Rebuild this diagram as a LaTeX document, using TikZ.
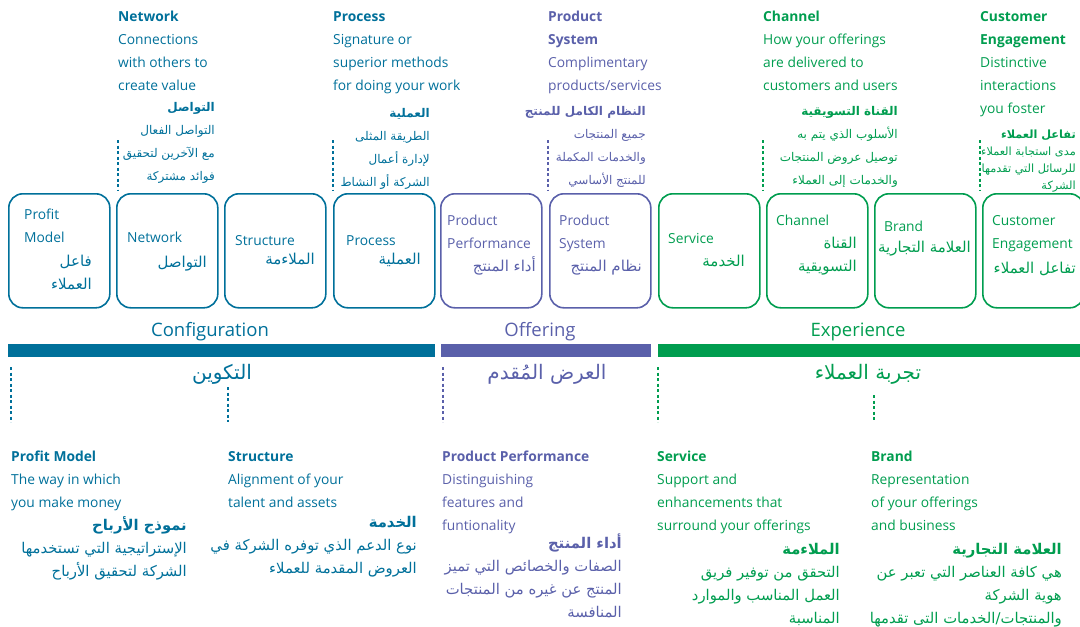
\documentclass[tikz,border=0pt]{standalone}
\usepackage{fontspec}
\setmainfont{Open Sans}
\newfontfamily\arfont[Script=Arabic]{DejaVu Sans}
\TeXXeTstate=1
\newcommand{\AR}[1]{{\arfont\beginR #1\endR}}
\definecolor{cfg}{HTML}{00709A}
\definecolor{off}{HTML}{5A60AA}
\definecolor{exp}{HTML}{009D4F}
\begin{document}
\begin{tikzpicture}[x=1pt,y=-1pt,
  box/.style={draw, line width=1.6pt, rounded corners=14pt, minimum width=101pt, minimum height=114pt, inner sep=0pt, anchor=north west},
  en/.style={anchor=base west, align=left, inner sep=0pt, font=\fontsize{13.8}{23}\selectfont},
  ar/.style={anchor=base east, align=right, inner sep=0pt},
  arS/.style={ar, font=\fontsize{12}{23}\selectfont},
  arB/.style={ar, font=\fontsize{15}{23}\selectfont},
  arL/.style={ar, font=\fontsize{14.8}{23}\selectfont},
  bar/.style={inner sep=0pt, anchor=north west, minimum height=13pt},
  band/.style={anchor=base, inner sep=0pt, font=\fontsize{18.5}{20}\selectfont},
  bandar/.style={anchor=base, inner sep=0pt, font=\fontsize{20}{22}\selectfont},
  dline/.style={line width=1.3pt, dash pattern=on 3pt off 2.5pt}]
\useasboundingbox (0,0) rectangle (1080,627);

% ---------- top descriptions (anchor = baseline of last line) ----------
\node[en, text=cfg] (tNet) at (118,90) {\textbf{Network}\\Connections\\with others to\\create value};
\node[arS, text=cfg] (tNetA) at (215,180) {\textbf{\AR{التواصل}}\\\AR{التواصل الفعال}\\\AR{مع الآخرين لتحقيق}\\\AR{فوائد مشتركة}};
\coordinate (dN1) at (118,140); \coordinate (dN2) at (118,190);
\draw[dline, cfg] (dN1) -- (dN2);

\node[en, text=cfg] (tPro) at (333,90) {\textbf{Process}\\Signature or\\superior methods\\for doing your work};
\node[arS, text=cfg] (tProA) at (430,186) {\textbf{\AR{العملية}}\\\AR{الطريقة المثلى}\\\AR{لإدارة أعمال}\\\AR{الشركة أو النشاط}};
\coordinate (dP1) at (333,140); \coordinate (dP2) at (333,190);
\draw[dline, cfg] (dP1) -- (dP2);

\node[en, text=off] (tSys) at (548,90) {\textbf{Product}\\\textbf{System}\\Complimentary\\products/services};
\node[arS, text=off] (tSysA) at (646,184) {\textbf{\AR{النظام الكامل للمنتج}}\\\AR{جميع المنتجات}\\\AR{والخدمات المكملة}\\\AR{للمنتج الأساسي}};
\coordinate (dS1) at (548,140); \coordinate (dS2) at (548,190);
\draw[dline, off] (dS1) -- (dS2);

\node[en, text=exp] (tCha) at (763,90) {\textbf{Channel}\\How your offerings\\are delivered to\\customers and users};
\node[arS, text=exp] (tChaA) at (898,184) {\textbf{\AR{القناة التسويقية}}\\\AR{الأسلوب الذي يتم به}\\\AR{توصيل عروض المنتجات}\\\AR{والخدمات إلى العملاء}};
\coordinate (dC1) at (763,140); \coordinate (dC2) at (763,190);
\draw[dline, exp] (dC1) -- (dC2);

\node[en, text=exp] (tEng) at (980,113) {\textbf{Customer}\\\textbf{Engagement}\\Distinctive\\interactions\\you foster};
\node[ar, text=exp, font=\fontsize{11.3}{17}\selectfont] (tEngA) at (1076,189) {\textbf{\AR{تفاعل العملاء}}\\\AR{مدى استجابة العملاء}\\\AR{للرسائل التي تقدمها}\\\AR{الشركة}};
\coordinate (dE1) at (980,140); \coordinate (dE2) at (980,190);
\draw[dline, exp] (dE1) -- (dE2);

% ---------- boxes ----------
\node[box, draw=cfg] (b1) at (8,193) {};
\node[box, draw=cfg] (b2) at (116,193) {};
\node[box, draw=cfg] (b3) at (224,193) {};
\node[box, draw=cfg] (b4) at (333,193) {};
\node[box, draw=off] (b5) at (440,193) {};
\node[box, draw=off] (b6) at (549,193) {};
\node[box, draw=exp] (b7) at (658,193) {};
\node[box, draw=exp] (b8) at (766,193) {};
\node[box, draw=exp] (b9) at (874,193) {};
\node[box, draw=exp] (b10) at (982,193) {};

\node[en, text=cfg] (b1e) at (24,242) {Profit\\Model};
\node[arB, text=cfg] (b1a) at (92,289) {\AR{فاعل}\\\AR{العملاء}};
\node[en, text=cfg] (b2e) at (127,242) {Network};
\node[arB, text=cfg] (b2a) at (207,267) {\AR{التواصل}};
\node[en, text=cfg] (b3e) at (235,245) {Structure};
\node[arB, text=cfg] (b3a) at (315,264) {\AR{الملاءمة}};
\node[en, text=cfg] (b4e) at (346,245) {Process};
\node[arB, text=cfg] (b4a) at (421,264) {\AR{العملية}};
\node[en, text=off] (b5e) at (447,248) {Product\\Performance};
\node[arB, text=off] (b5a) at (536,271) {\AR{أداء المنتج}};
\node[en, text=off] (b6e) at (559,248) {Product\\System};
\node[arB, text=off] (b6a) at (642,271) {\AR{نظام المنتج}};
\node[en, text=exp] (b7e) at (668,243) {Service};
\node[arB, text=exp] (b7a) at (745,266) {\AR{الخدمة}};
\node[en, text=exp] (b8e) at (776,225) {Channel};
\node[arB, text=exp] (b8a) at (857,271) {\AR{القناة}\\\AR{التسويقية}};
\node[en, text=exp] (b9e) at (884,231) {Brand};
\node[arB, text=exp] (b9a) at (971,252) {\AR{العلامة التجارية}};
\node[en, text=exp] (b10e) at (992,248) {Customer\\Engagement};
\node[arB, text=exp] (b10a) at (1076,273) {\AR{تفاعل العملاء}};

% ---------- bands ----------
\node[band, text=cfg] (lC) at (210,336) {Configuration};
\node[band, text=off] (lO) at (540,336) {Offering};
\node[band, text=exp] (lE) at (858,336) {Experience};
\node[bar, fill=cfg, minimum width=427pt] (barC) at (8,344) {};
\node[bar, fill=off, minimum width=210pt] (barO) at (441,344) {};
\node[bar, fill=exp, minimum width=422pt] (barE) at (658,344) {};
\node[bandar, text=cfg] (aC) at (222,379) {\AR{التكوين}};
\node[bandar, text=off] (aO) at (547,379) {\AR{العرض المُقدم}};
\node[bandar, text=exp] (aE) at (868,379) {\AR{تجربة العملاء}};

\coordinate (q1a) at (11,367); \coordinate (q1b) at (11,422);
\coordinate (q2a) at (228,387); \coordinate (q2b) at (228,422);
\coordinate (q3a) at (443,367); \coordinate (q3b) at (443,422);
\coordinate (q4a) at (658,367); \coordinate (q4b) at (658,422);
\coordinate (q5a) at (874,395); \coordinate (q5b) at (874,422);
\draw[dline, cfg] (q1a) -- (q1b);
\draw[dline, cfg] (q2a) -- (q2b);
\draw[dline, off] (q3a) -- (q3b);
\draw[dline, exp] (q4a) -- (q4b);
\draw[dline, exp] (q5a) -- (q5b);

% ---------- bottom descriptions ----------
\node[en, text=cfg] (pm) at (11,507) {\textbf{Profit Model}\\The way in which\\you make money};
\node[arL, text=cfg] (pmA) at (187,576) {\textbf{\AR{نموذج الأرباح}}\\\AR{الإستراتيجية التي تستخدمها}\\\AR{الشركة لتحقيق الأرباح}};
\node[en, text=cfg] (st) at (228,507) {\textbf{Structure}\\Alignment of your\\talent and assets};
\node[arL, text=cfg] (stA) at (417,573) {\textbf{\AR{الخدمة}}\\\AR{نوع الدعم الذي توفره الشركة في}\\\AR{العروض المقدمة للعملاء}};
\node[en, text=off] (pp) at (442,530) {\textbf{Product Performance}\\Distinguishing\\features and\\funtionality};
\node[arL, text=off] (ppA) at (622,617) {\textbf{\AR{أداء المنتج}}\\\AR{الصفات والخصائص التي تميز}\\\AR{المنتج عن غيره من المنتجات}\\\AR{المنافسة}};
\node[en, text=exp] (sv) at (657,530) {\textbf{Service}\\Support and\\enhancements that\\surround your offerings};
\node[arL, text=exp] (svA) at (840,623) {\textbf{\AR{الملاءمة}}\\\AR{التحقق من توفير فريق}\\\AR{العمل المناسب والموارد}\\\AR{المناسبة}};
\node[en, text=exp] (br) at (871,530) {\textbf{Brand}\\Representation\\of your offerings\\and business};
\node[arL, text=exp] (brA) at (1062,623) {\textbf{\AR{العلامة التجارية}}\\\AR{هي كافة العناصر التي تعبر عن}\\\AR{هوية الشركة}\\\AR{والمنتجات/الخدمات التى تقدمها}};
\end{tikzpicture}
\end{document}
